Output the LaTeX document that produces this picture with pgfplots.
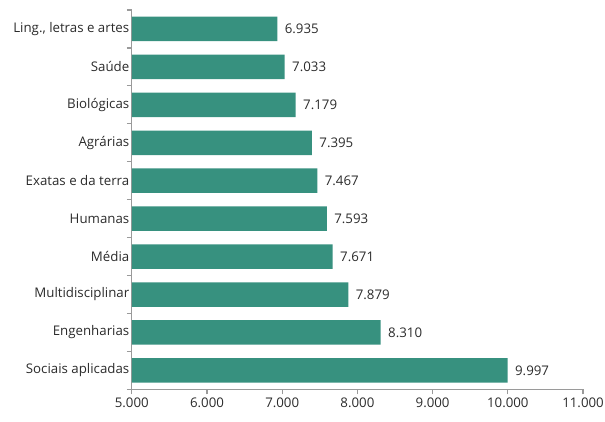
\documentclass[border=0pt]{standalone}
\usepackage{pgfplots}
\pgfplotsset{compat=1.18}
\usepackage{fontspec}
\setmainfont{Open Sans}
\definecolor{barteal}{HTML}{37917F}
\definecolor{axgray}{HTML}{9A9A9A}
\definecolor{txt}{HTML}{2B2B2B}
\begin{document}
\begin{tikzpicture}
\begin{axis}[
    xbar, scale only axis,
    width=452pt, height=380pt,
    xmin=5000, xmax=11000,
    ymin=-0.5, ymax=9.5, y dir=reverse,
    axis x line*=bottom, axis y line*=left,
    axis line style={axgray, line width=1.2pt},
    xtick={5000,6000,...,11000},
    scaled x ticks=false,
    ytick={0,...,9},
    minor ytick={-0.5,0.5,...,9.5},
    yticklabels={{Ling., letras e artes},Saúde,Biológicas,Agrárias,{Exatas e da terra},Humanas,Média,Multidisciplinar,Engenharias,{Sociais aplicadas}},
    major tick length=0pt,
    x tick style={axgray, line width=1.2pt, /pgfplots/major tick length=5pt},
    minor tick length=5pt,
    minor y tick style={axgray, line width=1.2pt},
    tick align=outside,
    tick label style={font=\fontsize{13.3}{16}\selectfont, text=txt},
    xticklabel style={yshift=-5pt},
    yticklabel style={xshift=1pt},
    xticklabel={\pgfmathprintnumber[fixed, precision=0, 1000 sep={.}, assume math mode=true]{\tick}},
    bar width=24.5pt,
    nodes near coords,
    nodes near coords style={font=\fontsize{13.3}{16}\selectfont, text=txt, xshift=4pt,
      /pgf/number format/.cd, fixed, precision=0, 1000 sep={.}, assume math mode=true},
]
\addplot[fill=barteal, draw=none] coordinates {
 (6935,0) (7033,1) (7179,2) (7395,3) (7467,4) (7593,5) (7671,6) (7879,7) (8310,8) (9997,9)
};
\end{axis}
\pgfresetboundingbox
\path ([shift={(-132pt,-32pt)}]current axis.south west) rectangle ([shift={(22pt,10pt)}]current axis.north east);
\end{tikzpicture}
\end{document}
